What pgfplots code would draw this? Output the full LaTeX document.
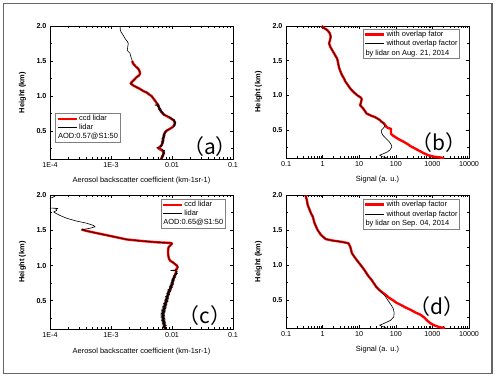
\documentclass[border=0pt]{standalone}
\usepackage{fontspec}
\setmainfont{Liberation Sans}
\newfontfamily\cjk{Noto Sans CJK SC}
\usepackage{pgfplots}
\pgfplotsset{compat=1.18}
\pgfplotsset{
  panel/.style={
    scale only axis,
    anchor=south west,
    axis line style={line width=0.8bp},
    tick align=inside,
    xtick pos=both, ytick pos=both,
    major tick length=3bp, minor tick length=1.6bp,
    every tick/.style={line width=0.6bp, black},
    ymin=0.1, ymax=2.0,
    ytick={0.5,1,1.5,2}, yticklabels={0.5,1.0,1.5,2.0},
    minor ytick={0.25,0.75,1.25,1.75},
    tick label style={font=\fontsize{7.2}{8}\selectfont},
    yticklabel style={font=\fontsize{7.2}{8}\selectfont\bfseries},
    label style={font=\fontsize{7.5}{8}\selectfont},
    ylabel={Height (km)},
    ylabel style={font=\fontsize{7.5}{8}\selectfont\bfseries, at={(axis description cs:-0.15,0.5)}, anchor=center},
    xlabel style={at={(axis description cs:0.5,-0.165)}, anchor=center},
    legend style={font=\fontsize{7.5}{8}\selectfont, draw=gray, line width=0.5bp, inner xsep=1bp, inner ysep=1bp, nodes={inner sep=1bp}, cells={anchor=west}, row sep=0bp},
    legend image code/.code={\draw[##1] (0bp,0bp) -- (19bp,0bp);},
    /pgf/number format/assume math mode=true,
  },
}
\tikzset{
  redline/.style={red, line width=2.4bp, line join=round},
  blkline/.style={black, line width=0.6bp, line join=round},
  lbl/.style={font=\cjk\fontsize{21}{23}\selectfont, anchor=center},
}
\begin{document}
\begin{tikzpicture}[x=1bp,y=1bp]
\path (0,0) rectangle (500,383);
\draw[black!60, line width=1.3bp] (3.5,9.5) rectangle (492,379.5);

% ---------------- (a)
\begin{semilogxaxis}[panel, at={(50bp,224bp)}, width=183bp, height=133bp,
  xmin=1e-4, xmax=0.1, xtick={1e-4,1e-3,1e-2,1e-1}, xticklabels={1E-4,1E-3,0.01,0.1},
  xlabel={Aerosol backscatter coefficient (km-1sr-1)},
  legend style={at={(0.03,0.345)}, anchor=north west}]
\addplot[redline] coordinates {
(2.22e-3,1.50) (2.32e-3,1.46) (2.55e-3,1.42) (2.8e-3,1.39) (2.95e-3,1.35) (3.0e-3,1.32)
(2.85e-3,1.29) (2.63e-3,1.27) (2.45e-3,1.24) (2.25e-3,1.21) (2.10e-3,1.18) (2.32e-3,1.15)
(2.7e-3,1.12) (3.0e-3,1.10) (3.4e-3,1.07) (3.85e-3,1.05) (4.25e-3,1.02) (4.6e-3,1.00)
(4.9e-3,0.97) (5.3e-3,0.93) (5.6e-3,0.90) (6.0e-3,0.86) (6.2e-3,0.82) (6.6e-3,0.78)
(7.2e-3,0.74) (8.3e-3,0.71) (9.6e-3,0.68) (1.07e-2,0.65) (1.12e-2,0.62) (1.08e-2,0.58)
(1.0e-2,0.55) (8.8e-3,0.52) (8.0e-3,0.50) (7.5e-3,0.46) (7.4e-3,0.42) (7.1e-3,0.38)
(7.0e-3,0.34) (6.8e-3,0.30) (6.3e-3,0.27) (6.0e-3,0.25) (7.0e-3,0.22) (7.3e-3,0.18)
(7.0e-3,0.14) (6.6e-3,0.10)};
\addlegendentry{ccd lidar}
\addplot[blkline] coordinates {
(1.41e-3,2.00) (1.42e-3,1.95) (1.45e-3,1.92) (1.58e-3,1.87) (1.70e-3,1.82) (1.85e-3,1.78)
(1.92e-3,1.75) (1.88e-3,1.70) (1.85e-3,1.65) (2.05e-3,1.61) (2.10e-3,1.57) (2.18e-3,1.53)
(2.25e-3,1.49) (2.32e-3,1.46) (2.55e-3,1.42) (2.80e-3,1.39) (2.95e-3,1.35) (3.00e-3,1.32)
(2.85e-3,1.29) (2.63e-3,1.27) (2.45e-3,1.24) (2.25e-3,1.21) (2.10e-3,1.18) (2.32e-3,1.15)
(2.70e-3,1.12) (3.00e-3,1.10) (3.40e-3,1.07) (3.85e-3,1.05) (4.25e-3,1.02) (4.60e-3,1.00)
(4.90e-3,0.97) (5.30e-3,0.93) (5.60e-3,0.90) (6.1e-3,0.88) (5.2e-3,0.87) (6.2e-3,0.86)
(5.7e-3,0.85) (6.4e-3,0.84) (5.9e-3,0.83) (6.6e-3,0.82) (6.0e-3,0.81) (6.8e-3,0.80)
(6.2e-3,0.79) (7.0e-3,0.78) (6.5e-3,0.77) (7.3e-3,0.76) (6.9e-3,0.75) (7.6e-3,0.74)
(7.2e-3,0.73) (8.0e-3,0.72) (8.6e-3,0.71) (9.4e-3,0.70) (9.0e-3,0.69) (1.02e-2,0.68)
(9.6e-3,0.67) (1.10e-2,0.66) (1.04e-2,0.65) (1.14e-2,0.64) (1.06e-2,0.63) (1.16e-2,0.62)
(1.08e-2,0.61) (1.15e-2,0.60) (1.07e-2,0.59) (1.13e-2,0.58) (1.05e-2,0.57) (1.09e-2,0.56)
(1.0e-2,0.55) (9.6e-3,0.54) (9.0e-3,0.53) (8.6e-3,0.52) (8.0e-3,0.51) (8.4e-3,0.50)
(7.6e-3,0.49) (8.0e-3,0.48) (7.3e-3,0.47) (7.8e-3,0.46) (7.1e-3,0.45) (7.7e-3,0.44)
(7.0e-3,0.43) (7.6e-3,0.42) (6.9e-3,0.41) (7.5e-3,0.40) (6.8e-3,0.39) (7.4e-3,0.38)
(6.9e-3,0.37) (7.5e-3,0.36) (6.8e-3,0.35) (7.3e-3,0.34) (6.7e-3,0.33) (7.2e-3,0.32)
(6.6e-3,0.31) (7.0e-3,0.30) (6.4e-3,0.29) (6.8e-3,0.28) (6.0e-3,0.27) (5.6e-3,0.26)
(6.3e-3,0.25) (7.0e-3,0.24) (6.8e-3,0.23) (7.6e-3,0.22) (7.0e-3,0.21) (7.7e-3,0.20)
(7.1e-3,0.19) (7.6e-3,0.18) (6.9e-3,0.17) (7.4e-3,0.16) (6.8e-3,0.15) (7.3e-3,0.14)
(6.7e-3,0.13) (7.1e-3,0.12) (6.5e-3,0.11) (6.9e-3,0.10)};
\addlegendentry{lidar}
\addlegendimage{empty legend}
\addlegendentry{\hspace*{-21bp}AOD:0.57@S1:50}
\node[lbl] at (axis description cs:0.874,0.09) {（a）};
\end{semilogxaxis}

% ---------------- (b)
\begin{semilogxaxis}[panel, at={(286bp,225bp)}, width=183bp, height=132bp,
  xmin=0.1, xmax=10000, xtick={0.1,1,10,100,1000,10000}, xticklabels={0.1,1,10,100,1000,10000},
  xlabel={Signal (a. u.)},
  legend style={at={(0.42,0.98)}, anchor=north west, row sep=0.5bp}]
\addplot[redline] coordinates {
(0.95,2.00) (1.1,1.97) (1.35,1.94) (1.55,1.90) (1.67,1.85) (1.6,1.80) (1.50,1.75)
(1.62,1.70) (1.84,1.65) (2.04,1.61) (2.25,1.57) (2.5,1.53) (2.65,1.47) (2.78,1.41)
(3.05,1.35) (3.4,1.29) (3.8,1.25) (4.2,1.20) (4.9,1.15) (5.7,1.10) (7.0,1.05)
(9.0,1.00) (11.0,0.97) (11.7,0.95) (11.2,0.90) (10.6,0.86) (11.5,0.84) (12.9,0.81)
(14.2,0.78) (15.9,0.74) (21,0.71) (26.6,0.69) (31,0.67) (36,0.65) (41,0.62) (47,0.60)
(52,0.57) (55,0.55) (62,0.53) (74,0.52) (74,0.48) (74,0.45) (80,0.43) (91,0.41)
(120,0.37) (169,0.33) (210,0.30) (254,0.27) (383,0.22) (578,0.17) (760,0.14)
(1070,0.12) (1500,0.11) (2100,0.10)};
\addlegendentry{with overlap fator}
\addplot[blkline] coordinates {
(0.95,2.00) (1.1,1.97) (1.35,1.94) (1.55,1.90) (1.67,1.85) (1.6,1.80) (1.50,1.75)
(1.62,1.70) (1.84,1.65) (2.04,1.61) (2.25,1.57) (2.5,1.53) (2.65,1.47) (2.78,1.41)
(3.05,1.35) (3.4,1.29) (3.8,1.25) (4.2,1.20) (4.9,1.15) (5.7,1.10) (7.0,1.05)
(9.0,1.00) (11.0,0.97) (11.7,0.95) (11.2,0.90) (10.6,0.86) (11.5,0.84) (12.9,0.81)
(14.2,0.78) (15.9,0.74) (21,0.71) (26.6,0.69) (31,0.67) (36,0.65) (41,0.62) (47,0.60)
(49,0.57) (49,0.55) (44,0.52) (40,0.50) (41,0.46) (44,0.43) (54,0.38) (67,0.33)
(75,0.29) (78,0.26) (70,0.22) (60,0.19) (45,0.16) (36,0.14) (42,0.12) (49,0.11) (58,0.10)};
\addlegendentry{without overlap factor}
\addlegendimage{empty legend}
\addlegendentry{\hspace*{-21bp}by lidar on Aug. 21, 2014}
\node[lbl] at (axis description cs:0.834,0.114) {（b）};
\end{semilogxaxis}

% ---------------- (c)
\begin{semilogxaxis}[panel, at={(50bp,54bp)}, width=183bp, height=134bp,
  xmin=1e-4, xmax=0.1, xtick={1e-4,1e-3,1e-2,1e-1}, xticklabels={1E-4,1E-3,0.01,0.1},
  xlabel={Aerosol backscatter coefficient (km-1sr-1)},
  legend style={at={(0.605,0.97)}, anchor=north west}]
\addplot[redline] coordinates {
(3.3e-4,1.51) (4.0e-4,1.49) (5.8e-4,1.46) (8.5e-4,1.43) (1.24e-3,1.40) (1.8e-3,1.37)
(3.0e-3,1.35) (5.6e-3,1.33) (9.5e-3,1.32) (1.0e-2,1.31) (9.5e-3,1.29) (8.8e-3,1.26)
(8.7e-3,1.24) (8.6e-3,1.19) (8.7e-3,1.14) (8.9e-3,1.10) (9.3e-3,1.07) (1.05e-2,1.04)
(1.12e-2,1.02) (1.2e-2,1.00) (1.22e-2,0.97) (1.17e-2,0.94) (1.16e-2,0.90) (1.11e-2,0.86)
(1.07e-2,0.82) (1.02e-2,0.78) (1.02e-2,0.74) (0.96e-2,0.70) (0.94e-2,0.66) (0.88e-2,0.62)
(0.86e-2,0.58) (0.83e-2,0.54) (0.82e-2,0.50) (0.78e-2,0.46) (0.77e-2,0.42) (0.74e-2,0.38)
(0.73e-2,0.34) (0.71e-2,0.30) (0.72e-2,0.26) (0.72e-2,0.22) (0.74e-2,0.18) (0.75e-2,0.14)
(0.77e-2,0.10)};
\addlegendentry{ccd lidar}
\addplot[blkline] coordinates {
(1.10e-4,2.00) (1.20e-4,1.98) (1.05e-4,1.96) (9.0e-5,1.94) (7.0e-5,1.90) (8.0e-5,1.85)
(9.5e-5,1.82) (1.0e-4,1.815) (1.35e-4,1.81) (1.25e-4,1.80) (1.29e-4,1.78) (1.15e-4,1.76)
(1.25e-4,1.74) (1.46e-4,1.71) (1.88e-4,1.67) (2.74e-4,1.63) (4.0e-4,1.60) (5.1e-4,1.57)
(5.5e-4,1.55) (4.6e-4,1.53) (4.0e-4,1.52) (3.3e-4,1.51) (4.0e-4,1.49) (5.8e-4,1.46)
(8.5e-4,1.43) (1.24e-3,1.40) (1.8e-3,1.37) (3.0e-3,1.35) (5.6e-3,1.33) (9.9e-3,1.32)
(1.0e-2,1.31) (9.5e-3,1.29) (8.8e-3,1.26) (8.7e-3,1.24) (8.6e-3,1.19) (8.7e-3,1.14)
(8.9e-3,1.10) (9.3e-3,1.07) (1.05e-2,1.04) (1.12e-2,1.02) (1.22e-2,1.00) (1.27e-2,0.98)
(1.24e-2,0.96) (1.18e-2,0.94) (0.95e-2,0.93) (1.22e-2,0.92) (1.15e-2,0.90) (1.24e-2,0.89)
(1.10e-2,0.88) (1.20e-2,0.87) (1.06e-2,0.86) (1.17e-2,0.85) (1.04e-2,0.84) (1.14e-2,0.83)
(1.00e-2,0.82) (1.12e-2,0.81) (0.99e-2,0.80) (1.10e-2,0.79) (0.97e-2,0.78) (1.08e-2,0.77)
(0.96e-2,0.76) (1.07e-2,0.75) (0.94e-2,0.74) (1.05e-2,0.73) (0.92e-2,0.72) (1.04e-2,0.71)
(0.90e-2,0.70) (1.02e-2,0.69) (0.89e-2,0.68) (0.99e-2,0.67) (0.86e-2,0.66) (0.97e-2,0.65)
(0.84e-2,0.64) (0.95e-2,0.63) (0.83e-2,0.62) (0.93e-2,0.61) (0.81e-2,0.60) (0.92e-2,0.59)
(0.80e-2,0.58) (0.90e-2,0.57) (0.78e-2,0.56) (0.89e-2,0.55) (0.77e-2,0.54) (0.88e-2,0.53)
(0.76e-2,0.52) (0.87e-2,0.51) (0.75e-2,0.50) (0.86e-2,0.49) (0.74e-2,0.48) (0.84e-2,0.47)
(0.72e-2,0.46) (0.83e-2,0.45) (0.71e-2,0.44) (0.82e-2,0.43) (0.70e-2,0.42) (0.81e-2,0.41)
(0.69e-2,0.40) (0.80e-2,0.39) (0.68e-2,0.38) (0.79e-2,0.37) (0.67e-2,0.36) (0.78e-2,0.35)
(0.66e-2,0.34) (0.77e-2,0.33) (0.66e-2,0.32) (0.76e-2,0.31) (0.65e-2,0.30) (0.76e-2,0.29)
(0.66e-2,0.28) (0.77e-2,0.27) (0.66e-2,0.26) (0.77e-2,0.25) (0.67e-2,0.24) (0.78e-2,0.23)
(0.67e-2,0.22) (0.78e-2,0.21) (0.68e-2,0.20) (0.79e-2,0.19) (0.69e-2,0.18) (0.80e-2,0.17)
(0.70e-2,0.16) (0.81e-2,0.15) (0.70e-2,0.14) (0.80e-2,0.13) (0.72e-2,0.12) (0.82e-2,0.11)
(0.74e-2,0.10)};
\addlegendentry{lidar}
\addlegendimage{empty legend}
\addlegendentry{\hspace*{-21bp}AOD:0.65@S1:50}
\node[lbl] at (axis description cs:0.847,0.097) {（c）};
\end{semilogxaxis}

% ---------------- (d)
\begin{semilogxaxis}[panel, at={(286bp,55bp)}, width=183bp, height=133bp,
  xmin=0.1, xmax=10000, xtick={0.1,1,10,100,1000,10000}, xticklabels={0.1,1,10,100,1000,10000},
  xlabel={Signal (a. u.)},
  legend style={at={(0.42,0.97)}, anchor=north west, row sep=0.5bp}]
\addplot[redline] coordinates {
(0.34,2.00) (0.37,1.93) (0.39,1.86) (0.44,1.79) (0.48,1.74) (0.54,1.69) (0.60,1.60)
(0.66,1.55) (0.73,1.50) (0.90,1.43) (1.22,1.37) (1.84,1.35) (3.4,1.33) (5.1,1.31)
(5.7,1.26) (6.3,1.17) (7.3,1.12) (8.6,1.07) (10.2,1.02) (11.7,0.98) (13.8,0.93)
(15.9,0.88) (18.5,0.83) (21.6,0.79) (25,0.74) (29,0.69) (33,0.66) (36,0.64)
(45,0.60) (54,0.57) (66,0.53) (82,0.50) (105,0.46) (137,0.43) (190,0.39) (254,0.36)
(350,0.32) (469,0.29) (600,0.25) (709,0.21) (870,0.17) (1100,0.14) (1600,0.11) (2200,0.10)};
\addlegendentry{with overlap factor}
\addplot[blkline] coordinates {
(0.34,2.00) (0.37,1.93) (0.39,1.86) (0.44,1.79) (0.48,1.74) (0.54,1.69) (0.60,1.60)
(0.66,1.55) (0.73,1.50) (0.90,1.43) (1.22,1.37) (1.84,1.35) (3.4,1.33) (5.1,1.31)
(5.7,1.26) (6.3,1.17) (7.3,1.12) (8.6,1.07) (10.2,1.02) (11.7,0.98) (13.8,0.93)
(15.9,0.88) (18.5,0.83) (21.6,0.79) (25,0.74) (29,0.69) (34,0.65) (39,0.62)
(44,0.59) (52,0.55) (60,0.50) (72,0.44) (85,0.38) (90,0.32) (88,0.26) (72,0.21)
(60,0.19) (45,0.16) (36,0.14) (44,0.12) (55,0.10)};
\addlegendentry{without overlap factor}
\addlegendimage{empty legend}
\addlegendentry{\hspace*{-21bp}by lidar on Sep. 04, 2014}
\node[lbl] at (axis description cs:0.824,0.158) {（d）};
\end{semilogxaxis}
\end{tikzpicture}
\end{document}
